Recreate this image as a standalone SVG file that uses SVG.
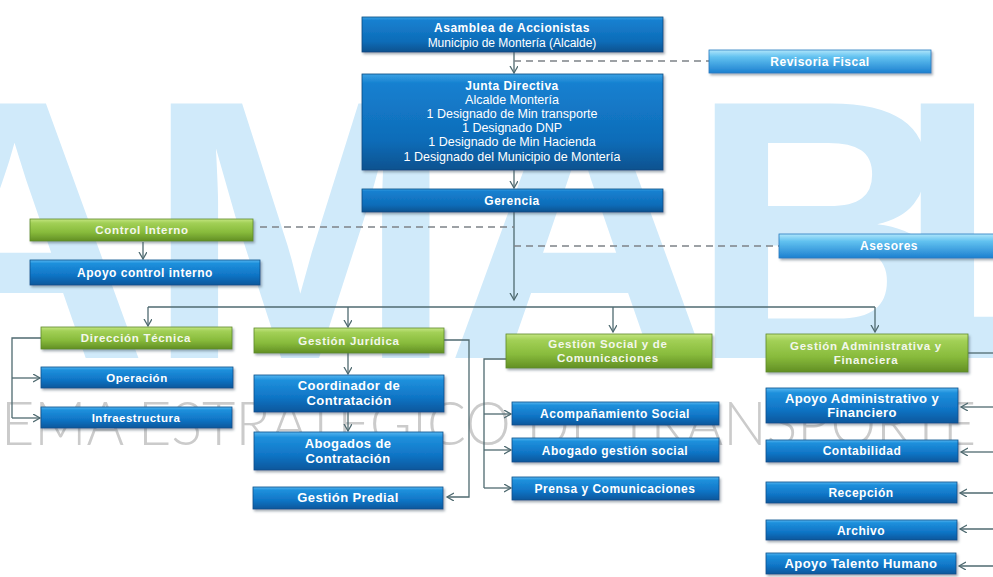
<svg xmlns="http://www.w3.org/2000/svg" width="993" height="577" viewBox="0 0 993 577">
<defs>
<linearGradient id="gBlue" x1="0" y1="0" x2="0" y2="1">
<stop offset="0" stop-color="#55b6f0"/><stop offset="0.14" stop-color="#1e90dc"/><stop offset="0.6" stop-color="#1075c6"/><stop offset="1" stop-color="#0a579c"/>
</linearGradient>
<linearGradient id="gDark" x1="0" y1="0" x2="0" y2="1">
<stop offset="0" stop-color="#3aa2e4"/><stop offset="0.1" stop-color="#1580d0"/><stop offset="0.7" stop-color="#0f6cb8"/><stop offset="1" stop-color="#0a528f"/>
</linearGradient>
<linearGradient id="gGreen" x1="0" y1="0" x2="0" y2="1">
<stop offset="0" stop-color="#c4e582"/><stop offset="0.18" stop-color="#a2d056"/><stop offset="0.6" stop-color="#88bb3c"/><stop offset="1" stop-color="#628f24"/>
</linearGradient>
<linearGradient id="gLight" x1="0" y1="0" x2="0" y2="1">
<stop offset="0" stop-color="#b0e6fb"/><stop offset="0.3" stop-color="#62c2f0"/><stop offset="1" stop-color="#1d80d0"/>
</linearGradient>
<filter id="sh" x="-5%" y="-20%" width="115%" height="160%">
<feDropShadow dx="1.5" dy="2" stdDeviation="1" flood-color="#445566" flood-opacity="0.45"/>
</filter>
<marker id="ah" markerUnits="userSpaceOnUse" markerWidth="10" markerHeight="10" refX="7" refY="4" orient="auto">
<path d="M0,0 L7,4 L0,8" fill="none" stroke="#4f6a70" stroke-width="1.3"/>
</marker>
<style>
.blue{fill:url(#gBlue);stroke:#0b4f8a;stroke-width:0.8;filter:url(#sh)}
.dark{fill:url(#gDark);stroke:#0b4a80;stroke-width:0.8;filter:url(#sh)}
.green{fill:url(#gGreen);stroke:#5e8a28;stroke-width:0.8;filter:url(#sh)}
.light{fill:url(#gLight);stroke:#2a7cc0;stroke-width:0.8;filter:url(#sh)}
text{font-family:"Liberation Sans",Arial,sans-serif;text-anchor:middle;fill:#ffffff}
.b{font-weight:bold;font-size:12px;letter-spacing:0.5px}
.bb{font-weight:bold;font-size:13px;letter-spacing:0.4px}
.n{font-size:12.5px}
.g{font-weight:bold;font-size:11.5px;letter-spacing:0.7px;fill:#f3f7ec}
.con{fill:none;stroke:#4f6a70;stroke-width:1.3}
.arr{marker-end:url(#ah)}
.dash{fill:none;stroke:#7d8288;stroke-width:1.3;stroke-dasharray:7 5}
.wm{font-family:"Liberation Sans",Arial,sans-serif;font-weight:bold;font-size:370px;fill:#d0eafa;text-anchor:start}
.wg{font-family:Lato,"Open Sans","DejaVu Sans",sans-serif;font-weight:300;font-size:62px;fill:#cbcbcb;text-anchor:start}
</style>
</defs>
<rect width="993" height="577" fill="#ffffff"/>
<g id="watermark">
<text class="wm" x="-119 146 446 690 896" y="358">AMABL</text>
<text class="wg" x="1" y="445" textLength="975" lengthAdjust="spacingAndGlyphs">EMA ESTRATEGICO DE TRANSPORTE</text>
</g>
<g id="connectors">
<path class="con arr" d="M514,52 V73"/>
<path class="dash" d="M514,61 H709"/>
<path class="con arr" d="M514,170 V188"/>
<path class="con arr" d="M514,212 V300"/>
<path class="dash" d="M260,227 H514"/>
<path class="dash" d="M514,246 H779"/>
<path class="con arr" d="M143,242 V259"/>
<path class="con" d="M148,307 H875"/>
<path class="con arr" d="M148,307 V326"/>
<path class="con arr" d="M348,307 V327"/>
<path class="con arr" d="M613,307 V332"/>
<path class="con arr" d="M875,307 V332"/>
<path class="con" d="M41,338 H12 V418"/>
<path class="con arr" d="M12,378 H40"/>
<path class="con arr" d="M12,418 H40"/>
<path class="con arr" d="M348,353 V374"/>
<path class="con arr" d="M348,412 V431"/>
<path class="con arr" d="M444,340 H469 V497 H447"/>
<path class="con" d="M506,359 H484 V488"/>
<path class="con arr" d="M484,414 H511"/>
<path class="con arr" d="M484,450 H511"/>
<path class="con arr" d="M484,488 H511"/>
<path class="con" d="M968,353 H993"/>
<path class="con arr" d="M993,407 H961"/>
<path class="con arr" d="M993,452 H961"/>
<path class="con arr" d="M993,493 H960"/>
<path class="con arr" d="M993,529 H960"/>
<path class="con arr" d="M993,566 H959"/>
</g>
<g id="asamblea"><rect class="dark" x="362" y="17" width="301" height="35"/>
<text class="b" x="512" y="32">Asamblea de Accionistas</text>
<text class="n" x="512" y="47" style="font-size:12px">Municipio de Montería (Alcalde)</text></g>
<g id="revisoria"><rect class="light" x="709" y="50" width="222" height="23"/>
<text class="b" x="820" y="66">Revisoria Fiscal</text></g>
<g id="junta"><rect class="dark" x="362" y="74" width="301" height="96"/>
<text class="b" x="512" y="90">Junta Directiva</text>
<text class="n" x="512" y="104">Alcalde Montería</text>
<text class="n" x="512" y="118">1 Designado de Min transporte</text>
<text class="n" x="512" y="132">1 Designado DNP</text>
<text class="n" x="512" y="146">1 Designado de Min Hacienda</text>
<text class="n" x="512" y="161">1 Designado del Municipio de Montería</text></g>
<g id="gerencia"><rect class="dark" x="362" y="189" width="301" height="23"/>
<text class="b" x="512" y="205">Gerencia</text></g>
<g id="control-interno"><rect class="green" x="30" y="219" width="223" height="22"/>
<text class="g" x="142" y="234">Control Interno</text></g>
<g id="apoyo-control"><rect class="blue" x="30" y="260" width="230" height="25"/>
<text class="b" x="145" y="277">Apoyo control interno</text></g>
<g id="asesores"><rect class="light" x="779" y="234" width="220" height="24"/>
<text class="b" x="889" y="250">Asesores</text></g>
<g id="direccion-tecnica"><rect class="green" x="41" y="327" width="191" height="22"/>
<text class="g" x="136" y="342">Dirección Técnica</text></g>
<g id="operacion"><rect class="blue" x="41" y="367" width="192" height="21"/>
<text class="b" x="137" y="382" style="font-size:11.5px">Operación</text></g>
<g id="infraestructura"><rect class="blue" x="41" y="407" width="191" height="21"/>
<text class="b" x="136" y="422" style="font-size:11.5px">Infraestructura</text></g>
<g id="gestion-juridica"><rect class="green" x="254" y="328" width="190" height="25"/>
<text class="g" x="349" y="345">Gestión Jurídica</text></g>
<g id="coordinador"><rect class="blue" x="254" y="375" width="190" height="37"/>
<text class="bb" x="349" y="390">Coordinador de</text>
<text class="bb" x="349" y="405">Contratación</text></g>
<g id="abogados"><rect class="blue" x="254" y="432" width="189" height="38"/>
<text class="bb" x="348" y="448">Abogados de</text>
<text class="bb" x="348" y="463">Contratación</text></g>
<g id="gestion-predial"><rect class="blue" x="253" y="487" width="190" height="22"/>
<text class="bb" x="348" y="502">Gestión Predial</text></g>
<g id="gestion-social"><rect class="green" x="506" y="334" width="206" height="34"/>
<text class="g" x="608" y="348">Gestión Social y de</text>
<text class="g" x="608" y="362">Comunicaciones</text></g>
<g id="acompanamiento"><rect class="blue" x="512" y="402" width="207" height="23"/>
<text class="b" x="615" y="418">Acompañamiento Social</text></g>
<g id="abogado-gestion"><rect class="blue" x="512" y="438" width="207" height="24"/>
<text class="b" x="615" y="455">Abogado gestión social</text></g>
<g id="prensa"><rect class="blue" x="512" y="477" width="207" height="23"/>
<text class="b" x="615" y="493">Prensa y Comunicaciones</text></g>
<g id="gestion-administrativa"><rect class="green" x="766" y="334" width="202" height="38"/>
<text class="g" x="866" y="350">Gestión Administrativa y</text>
<text class="g" x="866" y="364">Financiera</text></g>
<g id="apoyo-administrativo"><rect class="blue" x="766" y="388" width="192" height="35"/>
<text class="bb" x="862" y="403">Apoyo Administrativo y</text>
<text class="bb" x="862" y="417">Financiero</text></g>
<g id="contabilidad"><rect class="blue" x="766" y="440" width="192" height="22"/>
<text class="b" x="862" y="455">Contabilidad</text></g>
<g id="recepcion"><rect class="blue" x="766" y="482" width="191" height="21"/>
<text class="b" x="861" y="497">Recepción</text></g>
<g id="archivo"><rect class="blue" x="766" y="520" width="191" height="20"/>
<text class="b" x="861" y="535">Archivo</text></g>
<g id="apoyo-talento"><rect class="blue" x="766" y="553" width="190" height="21"/>
<text class="bb" x="861" y="568">Apoyo Talento Humano</text></g>
</svg>
